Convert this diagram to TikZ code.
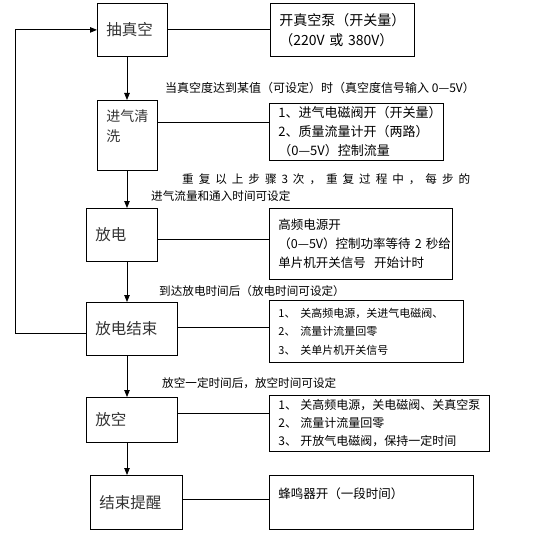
\documentclass[tikz,border=0pt]{standalone}
\usepackage{fontspec}
\setmainfont{Noto Sans CJK SC}
\usepackage{tikz}
\usetikzlibrary{calc}
\usetikzlibrary{arrows.meta}

\tikzset{
	stepBox/.style={draw, line width=0.8pt, anchor=north west, inner xsep=9pt, inner ysep=0pt,
		align=left, text=black!80, font=\fontsize{15.5pt}{20pt}\selectfont},
	infoBox/.style={draw, line width=0.8pt, anchor=north west, inner xsep=9pt, inner ysep=0pt,
		align=left, font=\fontsize{13pt}{19pt}\selectfont},
	note/.style={anchor=west, inner sep=0pt, font=\fontsize{11.6pt}{17pt}\selectfont},
	flow/.style={line width=0.8pt, -{Triangle[length=7pt,width=5.5pt]}},
	link/.style={line width=0.8pt}
}
\newcommand{\itemno}[1]{\makebox[22pt][l]{#1}}

\begin{document}
\begin{tikzpicture}[x=1pt, y=-1pt]
\useasboundingbox (0,0) rectangle (538,540);

% steps
\node[stepBox, minimum width=70pt, minimum height=53pt, text width=52pt] (vacuum) at (97,3) {抽真空};
\node[stepBox, minimum width=60pt, minimum height=70pt, text width=42pt,
	font=\fontsize{14pt}{20pt}\selectfont] (purge) at (97,100) {进气清\\洗\\\mbox{}};
\node[stepBox, minimum width=71pt, minimum height=53pt, text width=53pt] (discharge) at (86,208) {放电};
\node[stepBox, minimum width=91pt, minimum height=53pt, text width=73pt] (dischargeEnd) at (86,302) {放电结束};
\node[stepBox, minimum width=91pt, minimum height=45pt, text width=73pt] (vent) at (86,397) {放空};
\node[stepBox, minimum width=92pt, minimum height=54pt, text width=74pt] (finish) at (90,475) {结束提醒};

% actions
\node[infoBox, minimum width=144pt, minimum height=53pt, text width=126pt,
	font=\fontsize{14pt}{20pt}\selectfont] (vacuumInfo) at (270,3)
	{开真空泵（开关量）\\（220V 或 380V）};
\node[infoBox, minimum width=174pt, minimum height=57pt, text width=156pt] (purgeInfo) at (269,103)
	{1、进气电磁阀开（开关量）\\2、质量流量计开（两路）\\（0—5V）控制流量};
\node[infoBox, minimum width=183pt, minimum height=71pt, text width=165pt,
	font=\fontsize{12.5pt}{19pt}\selectfont] (dischargeInfo) at (269,208)
	{高频电源开\\\mbox{（0—5V）控制功率等待 2 秒给}\\单片机开关信号\ \ 开始计时};
\node[infoBox, minimum width=194pt, minimum height=62pt, text width=176pt,
	font=\fontsize{11pt}{18.5pt}\selectfont] (dischargeEndInfo) at (269,300)
	{\itemno{1、}关高频电源，关进气电磁阀、\\\itemno{2、}流量计流量回零\\\itemno{3、}关单片机开关信号};
\node[infoBox, minimum width=220pt, minimum height=56pt, text width=202pt,
	font=\fontsize{12pt}{18pt}\selectfont] (ventInfo) at (269,395)
	{\itemno{1、}关高频电源，关电磁阀、关真空泵\\\itemno{2、}流量计流量回零\\\itemno{3、}开放气电磁阀，保持一定时间};
\node[infoBox, minimum width=204pt, minimum height=54pt, text width=186pt,
	font=\fontsize{12.5pt}{19pt}\selectfont] (finishInfo) at (269,475)
	{蜂鸣器开（一段时间）\\\mbox{}};

% conditions
\node[note, font=\fontsize{12pt}{17pt}\selectfont] (vacuumCond) at (165,88)
	{当真空度达到某值（可设定）时（真空度信号输入 0—5V）};
\node[note, anchor=north west, text width=319pt, align=left] (repeatCond) at (151,173)
	{\makebox[319pt][s]{\hspace*{31pt}重\hfill 复\hfill 以\hfill 上\hfill 步\hfill 骤\hfill 3\hfill 次\hfill ，\hfill
	重\hfill 复\hfill 过\hfill 程\hfill 中\hfill ，\hfill 每\hfill 步\hfill 的}\\进气流量和通入时间可设定};
\node[note] (dischargeCond) at (159,291) {到达放电时间后（放电时间可设定）};
\node[note] (ventCond) at (162,383) {放空一定时间后，放空时间可设定};

% ---

\coordinate (spine) at (127,0);
\coordinate (loopBack) at (15,0);

\draw[flow] (vacuum.south -| spine) -- (purge.north -| spine);
\draw[flow] (purge.south -| spine) -- (discharge.north -| spine);
\draw[flow] (discharge.south -| spine) -- (dischargeEnd.north -| spine);
\draw[flow] (dischargeEnd.south -| spine) -- (vent.north -| spine);
\draw[flow] (vent.south -| spine) -- (finish.north -| spine);

\draw[flow] ([yshift=-4.5pt]dischargeEnd.west) -| (vacuum.west -| loopBack) -- (vacuum.west);

% ---

\coordinate (purgeLink) at ([yshift=13pt]purge.east);
\coordinate (dischargeLink) at ([yshift=-4.5pt]discharge.east);
\coordinate (dischargeEndLink) at ([yshift=1.5pt]dischargeEnd.east);
\coordinate (ventLink) at ([yshift=6.5pt]vent.east);
\coordinate (finishLink) at ([yshift=3pt]finish.east);

\draw[link] (vacuum.east) -- (vacuum.east -| vacuumInfo.west);
\draw[link] (purgeLink) -- (purgeLink -| purgeInfo.west);
\draw[link] (dischargeLink) -- (dischargeLink -| dischargeInfo.west);
\draw[link] (dischargeEndLink) -- (dischargeEndLink -| dischargeEndInfo.west);
\draw[link] (ventLink) -- (ventLink -| ventInfo.west);
\draw[link] (finishLink) -- (finishLink -| finishInfo.west);

\end{tikzpicture}
\end{document}
